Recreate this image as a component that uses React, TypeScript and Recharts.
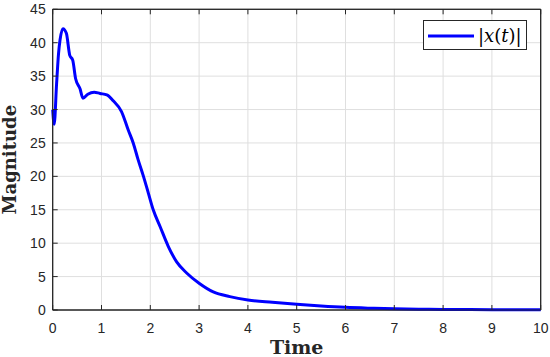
import { CartesianGrid, Label, Line, LineChart, ReferenceArea, XAxis, YAxis } from 'recharts';

// time samples and |x(t)|
const TIMES = [
  0, 0.03, 0.08, 0.12, 0.15, 0.21, 0.28, 0.35, 0.41, 0.47, 0.56, 0.62, 0.72, 0.85, 0.97,
  1.11, 1.24, 1.41, 1.55, 1.65, 1.75, 1.86, 1.96, 2.06, 2.2, 2.37, 2.54, 2.75, 3.0, 3.29,
  3.63, 4.0, 4.5, 5.0, 5.5, 6.0, 6.5, 7.0, 7.5, 8.0, 9.0, 10.0,
];
const MAGNITUDES = [
  30, 27.8, 33.9, 38.4, 40.4, 42.1, 41.4, 38.1, 37.4, 34.6, 33.1, 31.7, 32.3, 32.6, 32.4,
  32.2, 31.3, 29.7, 26.9, 25, 22.5, 20, 17.5, 15, 12.5, 9.5, 7.2, 5.5, 4.0, 2.7,
  2.0, 1.5, 1.15, 0.85, 0.6, 0.4, 0.27, 0.17, 0.12, 0.08, 0.05, 0.04,
];
const X_TICKS = [0, 1, 2, 3, 4, 5, 6, 7, 8, 9, 10];
const Y_TICKS = [0, 5, 10, 15, 20, 25, 30, 35, 40, 45];

const AXIS_COLOR = '#262626';
const GRID_COLOR = '#dfdfdf';
const LINE_COLOR = '#0000ff';
const TICK_FONT = '"Liberation Sans", Arial, sans-serif';
const LABEL_FONT = '"DejaVu Serif", serif';
const TICK_LEN = 5;

const data = TIMES.map((t, i) => ({ t, mag: MAGNITUDES[i] }));

const BottomTick = ({ x, y, payload }: any) => (
  <g>
    <line x1={x} y1={y} x2={x} y2={y - TICK_LEN} stroke={AXIS_COLOR} />
    <text x={x} y={y + 23} textAnchor="middle" fontSize={14} fontFamily={TICK_FONT} fill={AXIS_COLOR}>
      {payload.value}
    </text>
  </g>
);

const TopTick = ({ x, y }: any) => <line x1={x} y1={y} x2={x} y2={y + TICK_LEN} stroke={AXIS_COLOR} />;

const LeftTick = ({ x, y, payload }: any) => (
  <g>
    <line x1={x} y1={y} x2={x + TICK_LEN} y2={y} stroke={AXIS_COLOR} />
    <text x={x - 7} y={y + 5} textAnchor="end" fontSize={14} fontFamily={TICK_FONT} fill={AXIS_COLOR}>
      {payload.value}
    </text>
  </g>
);

const RightTick = ({ x, y }: any) => <line x1={x} y1={y} x2={x - TICK_LEN} y2={y} stroke={AXIS_COLOR} />;

const MagnitudeLabel = ({ viewBox }: any) => {
  const cy = viewBox.y + viewBox.height / 2;
  return (
    <text
      x={16}
      y={cy}
      transform={`rotate(-90 16 ${cy})`}
      textAnchor="middle"
      fontSize={18}
      fontWeight="bold"
      fontFamily={LABEL_FONT}
      fill={AXIS_COLOR}
    >
      Magnitude
    </text>
  );
};

const LegendBox = () => (
  <div
    style={{
      position: 'absolute',
      left: 423,
      top: 20,
      width: 102,
      height: 28,
      border: `1px solid ${AXIS_COLOR}`,
      background: '#fff',
      display: 'flex',
      alignItems: 'center',
    }}
  >
    <svg width={54} height={28}>
      <line x1={4} y1={15} x2={50} y2={15} stroke={LINE_COLOR} strokeWidth={3} />
    </svg>
    <span style={{ fontFamily: LABEL_FONT, fontSize: 18, color: '#000', whiteSpace: 'nowrap' }}>
      |<i>x</i>(<i>t</i>)|
    </span>
  </div>
);

export default function App() {
  return (
    <div style={{ position: 'absolute', left: 0, top: 0, width: 550, height: 357, background: '#fff' }}>
      <LineChart width={550} height={357} data={data} margin={{ top: 8.3, right: 8.3, bottom: 0, left: 0 }}>
        <CartesianGrid stroke={GRID_COLOR} vertical horizontal />
        <ReferenceArea x1={0} x2={10} y1={0} y2={45} fill="none" stroke={AXIS_COLOR} ifOverflow="visible" />
        <XAxis
          dataKey="t"
          type="number"
          domain={[0, 10]}
          ticks={X_TICKS}
          interval={0}
          height={47}
          tickSize={0}
          tickMargin={0}
          tickLine={false}
          axisLine={{ stroke: AXIS_COLOR }}
          tick={<BottomTick />}
        >
          <Label
            value="Time"
            position="insideBottom"
            offset={3}
            fontSize={19}
            fontWeight="bold"
            fontFamily={LABEL_FONT}
            fill={AXIS_COLOR}
          />
        </XAxis>
        <XAxis
          xAxisId="top"
          orientation="top"
          dataKey="t"
          type="number"
          domain={[0, 10]}
          ticks={X_TICKS}
          interval={0}
          height={1}
          tickSize={0}
          tickMargin={0}
          tickLine={false}
          axisLine={{ stroke: AXIS_COLOR }}
          tick={<TopTick />}
        />
        <YAxis
          type="number"
          domain={[0, 45]}
          ticks={Y_TICKS}
          interval={0}
          width={52.7}
          tickSize={0}
          tickMargin={0}
          tickLine={false}
          axisLine={{ stroke: AXIS_COLOR }}
          tick={<LeftTick />}
          label={<MagnitudeLabel />}
        />
        <YAxis
          yAxisId="right"
          orientation="right"
          type="number"
          domain={[0, 45]}
          ticks={Y_TICKS}
          interval={0}
          width={1}
          tickSize={0}
          tickMargin={0}
          tickLine={false}
          axisLine={{ stroke: AXIS_COLOR }}
          tick={<RightTick />}
        />
        <Line
          type="monotone"
          dataKey="mag"
          stroke={LINE_COLOR}
          strokeWidth={3}
          dot={false}
          isAnimationActive={false}
        />
      </LineChart>
      <LegendBox />
    </div>
  );
}
